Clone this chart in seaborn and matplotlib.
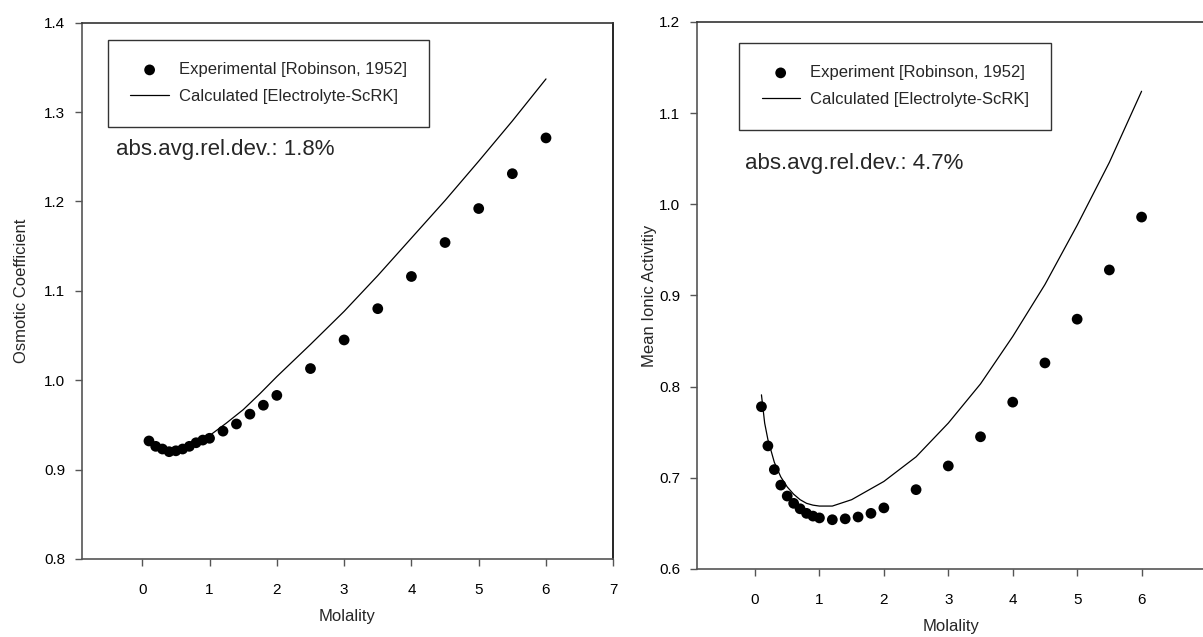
import matplotlib
matplotlib.use("Agg")
import matplotlib.pyplot as plt
import seaborn as sns

sns.set_style("white")
plt.rcParams['font.family'] = ['Liberation Sans', 'DejaVu Sans']

# ---- data: left panel (osmotic coefficient) ----
exp_m = [0.1, 0.2, 0.3, 0.4, 0.5, 0.6, 0.7, 0.8, 0.9, 1.0,
         1.2, 1.4, 1.6, 1.8, 2.0, 2.5, 3.0, 3.5, 4.0, 4.5, 5.0, 5.5, 6.0]
osm_exp = [0.932, 0.926, 0.923, 0.920, 0.921, 0.923, 0.926, 0.930, 0.933, 0.935,
           0.943, 0.951, 0.962, 0.972, 0.983, 1.013, 1.045, 1.080, 1.116, 1.154,
           1.192, 1.231, 1.271]
calc_m_osm = [0.1, 0.2, 0.3, 0.4, 0.5, 0.6, 0.7, 0.8, 0.9, 1.0, 1.25, 1.5, 1.75,
              2.0, 2.5, 3.0, 3.5, 4.0, 4.5, 5.0, 5.5, 6.0]
osm_calc = [0.932, 0.926, 0.923, 0.921, 0.921, 0.923, 0.926, 0.930, 0.934, 0.938,
            0.952, 0.967, 0.985, 1.004, 1.040, 1.077, 1.117, 1.159, 1.201, 1.245,
            1.290, 1.337]

# ---- data: right panel (mean ionic activity) ----
act_exp = [0.778, 0.735, 0.709, 0.692, 0.680, 0.672, 0.666, 0.661, 0.658, 0.656,
           0.654, 0.655, 0.657, 0.661, 0.667, 0.687, 0.713, 0.745, 0.783, 0.826,
           0.874, 0.928, 0.986]
calc_m_act = [0.1, 0.15, 0.2, 0.3, 0.4, 0.5, 0.6, 0.7, 0.8, 0.9, 1.0, 1.2, 1.5,
              2.0, 2.5, 3.0, 3.5, 4.0, 4.5, 5.0, 5.5, 6.0]
act_calc = [0.791, 0.760, 0.742, 0.717, 0.701, 0.690, 0.682, 0.676, 0.672, 0.670,
            0.669, 0.669, 0.676, 0.696, 0.723, 0.760, 0.803, 0.855, 0.912, 0.977,
            1.046, 1.124]

xticks_left = [0, 1, 2, 3, 4, 5, 6, 7]
xticks_right = [0, 1, 2, 3, 4, 5, 6]
yticks_left = [0.8, 0.9, 1.0, 1.1, 1.2, 1.3, 1.4]
yticks_right = [0.6, 0.7, 0.8, 0.9, 1.0, 1.1, 1.2]

fig = plt.figure(figsize=(12.03, 6.37), dpi=100)
axL = fig.add_axes([0.0679, 0.1225, 0.4419, 0.842])
axR = fig.add_axes([0.5794, 0.1068, 0.4231, 0.8587])


def panel(ax, yexp, cm, ycalc, exp_label, ylabel, ylim, xticks, yticks,
          dev_text, leg_xy, dev_xy, ylab_x, xlab_y):
    sns.scatterplot(x=exp_m, y=yexp, ax=ax, color='black', s=60,
                    edgecolor='none', label=exp_label, zorder=3)
    sns.lineplot(x=cm, y=ycalc, ax=ax, color='black', lw=0.9,
                 label='Calculated [Electrolyte-ScRK]', zorder=2)
    ax.set_xlim(-0.9, 7)
    ax.set_ylim(*ylim)
    ax.set_xticks(xticks)
    ax.set_yticks(yticks)
    ax.set_yticklabels([f"{v:.1f}" for v in yticks])
    ax.tick_params(axis='both', which='major', direction='out', length=5,
                   width=1, color='#555555', labelsize=11, labelcolor='black',
                   left=True, bottom=True, top=False, right=False)
    ax.tick_params(axis='x', pad=12)
    ax.tick_params(axis='y', pad=7)
    for side, col in [('left', '#555555'), ('bottom', '#555555'),
                      ('top', '#333333'), ('right', 'black')]:
        ax.spines[side].set_visible(True)
        ax.spines[side].set_color(col)
        ax.spines[side].set_linewidth(1.2)
    ax.set_xlabel('Molality', fontsize=12)
    ax.set_ylabel(ylabel, fontsize=12)
    ax.xaxis.set_label_coords(0.5, xlab_y)
    ax.yaxis.set_label_coords(ylab_x, 0.5)
    leg = ax.legend(loc='upper left', bbox_to_anchor=leg_xy, fontsize=12,
                    frameon=True, fancybox=False, borderaxespad=0,
                    borderpad=1.35, labelspacing=0.72, handlelength=2.3,
                    handletextpad=0.6, markerscale=1.0)
    leg.get_frame().set_edgecolor('black')
    leg.get_frame().set_linewidth(1.0)
    ax.text(dev_xy[0], dev_xy[1], dev_text, transform=ax.transAxes,
            fontsize=16, va='center', ha='left')


panel(axL, osm_exp, calc_m_osm, osm_calc, 'Experimental [Robinson, 1952]',
      'Osmotic Coefficient', (0.8, 1.4), xticks_left, yticks_left,
      'abs.avg.rel.dev.: 1.8%', (0.0494, 0.968), (0.0645, 0.763), -0.10, -0.093)
panel(axR, act_exp, calc_m_act, act_calc, 'Experiment [Robinson, 1952]',
      'Mean Ionic Activitiy', (0.6, 1.2), xticks_right, yticks_right,
      'abs.avg.rel.dev.: 4.7%', (0.0825, 0.962), (0.094, 0.742), -0.079, -0.091)

fig.savefig('out.png', dpi=100)
